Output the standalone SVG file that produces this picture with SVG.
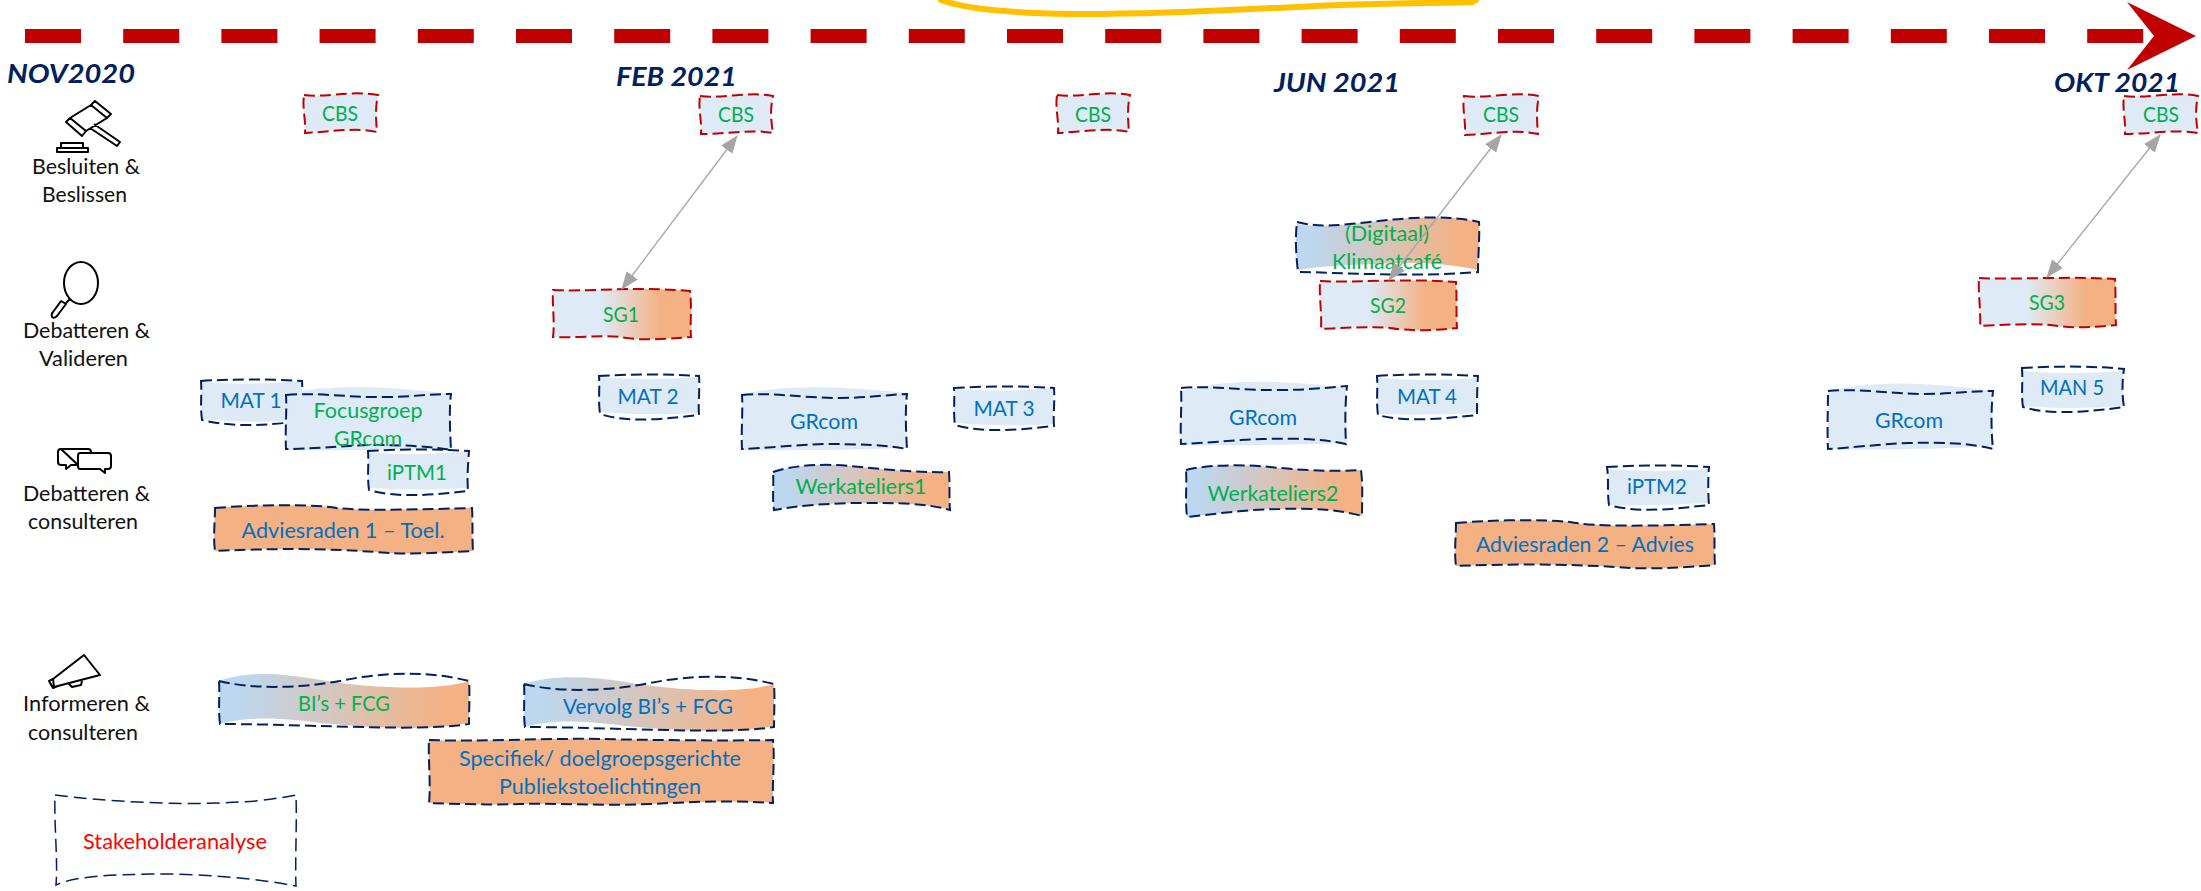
<svg xmlns="http://www.w3.org/2000/svg" width="2201" height="891" viewBox="0 0 2201 891">
<style>
text{font-family:Lato,"Liberation Sans",sans-serif}
.g,.b,.r{font-size:22px;text-anchor:middle}
.g{fill:#00B050}.b{fill:#0070C0}.r{fill:#FF0000}
.l{font-size:20.5px;fill:#111}
.d{font-size:27px;font-weight:700;font-style:italic;fill:#002060}
.sr{fill:none;stroke:#C00000;stroke-width:2;stroke-dasharray:11 5}
.sn{fill:none;stroke:#002060;stroke-width:2;stroke-dasharray:11 5}
.sw{fill:none;stroke:#002060;stroke-width:1.5;stroke-dasharray:13 6}
.lt{fill:#DEEAF6}.or{fill:#F4B183}.gb{fill:url(#gb)}.sg{fill:url(#sg)}
.ic{fill:none;stroke:#000;stroke-width:2;stroke-linejoin:round}
.cn{fill:none;stroke:#A5A5A5;stroke-width:1.3;marker-start:url(#ah);marker-end:url(#ah)}
</style>
<defs>
<linearGradient id="gb"><stop offset="0.08" stop-color="#BDD7EE"/><stop offset="0.9" stop-color="#F4B183"/></linearGradient>
<linearGradient id="sg"><stop offset="0.35" stop-color="#DEEAF6"/><stop offset="0.78" stop-color="#F4B183"/></linearGradient>
<marker id="ah" markerUnits="userSpaceOnUse" markerWidth="18" markerHeight="14" refX="17" refY="7" orient="auto-start-reverse"><path d="M0,0L18,7L0,14Z" fill="#A5A5A5"/></marker>
</defs>

<g id="timeline">
<path d="M25,36H2150" fill="none" stroke="#C00000" stroke-width="14" stroke-dasharray="56 42.2"/>
<path d="M2127,2L2196,36L2127,70L2154,36Z" fill="#C00000"/>
<path d="M941,0C965,9 1010,13 1070,14C1170,15 1260,8 1340,5C1390,3 1440,3 1472,2L1476,0" fill="none" stroke="#FFC000" stroke-width="6" stroke-linecap="round"/>
</g>

<g id="dates">
<text class="d" x="7" y="83" textLength="128" lengthAdjust="spacingAndGlyphs">NOV2020</text>
<text class="d" x="616" y="86" textLength="121" lengthAdjust="spacingAndGlyphs">FEB 2021</text>
<text class="d" x="1274" y="92" textLength="126" lengthAdjust="spacingAndGlyphs">JUN 2021</text>
<text class="d" x="2054" y="92" textLength="126" lengthAdjust="spacingAndGlyphs">OKT 2021</text>
</g>

<g id="cat-besluiten">
<path class="ic" d="M95,101L111,114L107,118L91,105ZM66,122L82,136L86,131L70,118ZM91,105L107,118L86,131L70,118ZM94,124L120,142L117,146L90,128"/>
<path class="ic" d="M61,143H83V148H61ZM57,148H88V152H57Z"/>
<text class="l" x="32" y="174" textLength="108" lengthAdjust="spacingAndGlyphs">Besluiten &amp;</text>
<text class="l" x="42" y="202" textLength="85" lengthAdjust="spacingAndGlyphs">Beslissen</text>
</g>
<g id="cat-valideren">
<ellipse class="ic" cx="81" cy="283" rx="17" ry="21"/>
<path class="ic" d="M61,301L66,304L57,316Q54,319 52,317Q51,314 53,312ZM66,303L70,299"/>
<text class="l" x="23" y="338" textLength="127" lengthAdjust="spacingAndGlyphs">Debatteren &amp;</text>
<text class="l" x="39" y="366" textLength="89" lengthAdjust="spacingAndGlyphs">Valideren</text>
</g>
<g id="cat-consulteren">
<path class="ic" d="M61,449H88Q91,449 91,452V453M78,465H71L66,469V465H61Q58,465 58,462V452Q58,449 61,449Z"/>
<path class="ic" d="M80,453H108Q111,453 111,456V466Q111,469 108,469H105V473L100,469H80Q78,469 78,466V456Q78,453 80,453Z"/>
<text class="l" x="23" y="501" textLength="127" lengthAdjust="spacingAndGlyphs">Debatteren &amp;</text>
<text class="l" x="28" y="529" textLength="110" lengthAdjust="spacingAndGlyphs">consulteren</text>
</g>
<g id="cat-informeren">
<path class="ic" d="M84,655L100,675L54,687L53,679ZM53,679L49,681L53,688L58,686M69,684L72,687L81,685L82,681"/>
<text class="l" x="23" y="711" textLength="127" lengthAdjust="spacingAndGlyphs">Informeren &amp;</text>
<text class="l" x="28" y="740" textLength="110" lengthAdjust="spacingAndGlyphs">consulteren</text>
</g>

<g id="cbs1"><path class="lt" d="M304,95C325,98 350,90 378,95C375,108 376,120 377,132C355,127 330,132 305,133C306,120 302,108 304,95Z"/><path class="sr" d="M304,95C325,98 350,90 378,95C375,108 376,120 377,132C355,127 330,132 305,133C306,120 302,108 304,95Z"/><text class="g" x="340" y="121" textLength="36" lengthAdjust="spacingAndGlyphs">CBS</text></g>
<g id="cbs2"><path class="lt" d="M700,96C722,99 750,91 773,96C770,109 771,121 773,133C752,129 725,134 701,134C702,121 698,109 700,96Z"/><path class="sr" d="M700,96C722,99 750,91 773,96C770,109 771,121 773,133C752,129 725,134 701,134C702,121 698,109 700,96Z"/><text class="g" x="736" y="122" textLength="36" lengthAdjust="spacingAndGlyphs">CBS</text></g>
<g id="cbs3"><path class="lt" d="M1057,95C1078,98 1105,90 1130,95C1127,108 1128,120 1129,132C1108,127 1082,132 1058,133C1059,120 1055,108 1057,95Z"/><path class="sr" d="M1057,95C1078,98 1105,90 1130,95C1127,108 1128,120 1129,132C1108,127 1082,132 1058,133C1059,120 1055,108 1057,95Z"/><text class="g" x="1093" y="122" textLength="36" lengthAdjust="spacingAndGlyphs">CBS</text></g>
<g id="cbs4"><path class="lt" d="M1464,96C1486,99 1514,91 1539,96C1536,109 1537,121 1538,134C1517,129 1490,134 1465,135C1466,122 1462,109 1464,96Z"/><path class="sr" d="M1464,96C1486,99 1514,91 1539,96C1536,109 1537,121 1538,134C1517,129 1490,134 1465,135C1466,122 1462,109 1464,96Z"/><text class="g" x="1501" y="122" textLength="36" lengthAdjust="spacingAndGlyphs">CBS</text></g>
<g id="cbs5"><path class="lt" d="M2124,96C2146,99 2174,91 2198,96C2195,109 2196,121 2198,133C2177,129 2150,134 2125,134C2126,121 2122,109 2124,96Z"/><path class="sr" d="M2124,96C2146,99 2174,91 2198,96C2195,109 2196,121 2198,133C2177,129 2150,134 2125,134C2126,121 2122,109 2124,96Z"/><text class="g" x="2161" y="122" textLength="36" lengthAdjust="spacingAndGlyphs">CBS</text></g>

<g id="sg1"><path class="sg" d="M553,290C590,292 630,286 690,291C692,305 690,322 691,337C665,339 640,341 620,337C600,335 575,338 553,337C555,322 552,305 553,290Z"/><path class="sr" d="M553,290C590,292 630,286 690,291C692,305 690,322 691,337C665,339 640,341 620,337C600,335 575,338 553,337C555,322 552,305 553,290Z"/><text class="g" x="621" y="322" textLength="36" lengthAdjust="spacingAndGlyphs">SG1</text></g>
<g id="klimaatcafe"><path class="gb" d="M1297,224C1320,228 1340,225 1370,222C1410,217 1450,215 1479,222C1480,235 1478,255 1478,270C1445,262 1405,262 1375,264C1345,265 1320,266 1298,270C1296,255 1295,238 1297,224Z"/><path class="sn" d="M1297,222C1320,228 1340,225 1370,222C1410,217 1450,215 1479,222C1480,235 1478,255 1478,272C1445,275 1410,275 1375,274C1345,274 1320,272 1298,272C1296,255 1295,238 1297,222Z"/><text class="g" x="1387" y="241" textLength="84" lengthAdjust="spacingAndGlyphs">(Digitaal)</text><text class="g" x="1387" y="269" textLength="110" lengthAdjust="spacingAndGlyphs">Klimaatcafé</text></g>
<g id="sg2"><path class="sg" d="M1320,281C1360,283 1400,278 1456,282C1457,296 1456,314 1457,328C1432,331 1410,331 1390,328C1370,326 1345,328 1321,329C1322,314 1319,296 1320,281Z"/><path class="sr" d="M1320,281C1360,283 1400,278 1456,282C1457,296 1456,314 1457,328C1432,331 1410,331 1390,328C1370,326 1345,328 1321,329C1322,314 1319,296 1320,281Z"/><text class="g" x="1388" y="313" textLength="36" lengthAdjust="spacingAndGlyphs">SG2</text></g>
<g id="sg3"><path class="sg" d="M1979,278C2015,280 2060,276 2115,279C2116,292 2115,312 2116,325C2090,328 2070,328 2050,325C2030,323 2005,325 1980,326C1981,312 1978,292 1979,278Z"/><path class="sr" d="M1979,278C2015,280 2060,276 2115,279C2116,292 2115,312 2116,325C2090,328 2070,328 2050,325C2030,323 2005,325 1980,326C1981,312 1978,292 1979,278Z"/><text class="g" x="2047" y="310" textLength="36" lengthAdjust="spacingAndGlyphs">SG3</text></g>

<g id="mat1"><path class="lt" d="M201,382Q250,386 302,381V420Q250,424 202,419C200,405 202,395 201,382Z"/><path class="sn" d="M201,381C230,379 270,379 302,381C303,395 302,408 302,421C270,425 235,428 202,420C200,405 202,395 201,381Z"/><text class="b" x="251" y="408" textLength="61" lengthAdjust="spacingAndGlyphs">MAT 1</text></g>
<g id="focusgroep"><path class="lt" d="M286,394Q345,380 450,394L451,448Q370,451 286,450Z"/><path class="sn" d="M286,395C320,392 350,398 385,397C410,397 430,394 451,394C449,410 450,430 451,450C430,446 400,445 370,445C340,446 310,449 286,449C285,430 287,410 286,395Z"/><text class="g" x="368" y="418" textLength="109" lengthAdjust="spacingAndGlyphs">Focusgroep</text><text class="g" x="368" y="446" textLength="68" lengthAdjust="spacingAndGlyphs">GRcom</text></g>
<g id="iptm1"><path class="lt" d="M368,452Q418,457 468,451V488Q418,491 369,488C367,475 369,465 368,452Z"/><path class="sn" d="M368,451C400,449 440,449 469,451C468,465 467,478 468,491C440,494 400,499 369,490C367,475 369,465 368,451Z"/><text class="g" x="417" y="480" textLength="60" lengthAdjust="spacingAndGlyphs">iPTM1</text></g>
<g id="adviesraden1"><path class="or" d="M215,508C250,505 300,504 330,507C350,511 400,510 472,508C473,522 472,538 473,551C440,553 410,554 390,553C350,550 300,547 215,551C213,538 215,522 215,508Z"/><path class="sn" d="M215,508C250,505 300,504 330,507C350,511 400,510 472,508C473,522 472,538 473,551C440,553 410,554 390,553C350,550 300,547 215,551C213,538 215,522 215,508Z"/><text class="b" x="343" y="538" textLength="203" lengthAdjust="spacingAndGlyphs">Adviesraden 1 – Toel.</text></g>

<g id="mat2"><path class="lt" d="M599,377Q650,381 698,377V413Q650,416 600,412C598,400 600,390 599,377Z"/><path class="sn" d="M599,376C630,374 670,374 699,376C700,390 698,403 699,415C670,418 630,424 600,414C598,400 600,390 599,376Z"/><text class="b" x="648" y="404" textLength="61" lengthAdjust="spacingAndGlyphs">MAT 2</text></g>
<g id="grcom1"><path class="lt" d="M742,394Q800,381 906,393L907,448Q825,451 742,450Z"/><path class="sn" d="M742,395C775,392 800,398 840,398C865,398 885,395 907,394C905,412 906,432 907,449C885,445 860,444 825,444C795,445 765,448 742,449C741,432 743,412 742,395Z"/><text class="b" x="824" y="429" textLength="68" lengthAdjust="spacingAndGlyphs">GRcom</text></g>
<g id="mat3"><path class="lt" d="M954,389Q1004,393 1053,388V424Q1004,427 955,423C953,411 955,401 954,389Z"/><path class="sn" d="M954,388C985,386 1025,386 1054,388C1055,402 1053,414 1054,426C1025,429 985,434 955,425C953,411 955,401 954,388Z"/><text class="b" x="1004" y="416" textLength="61" lengthAdjust="spacingAndGlyphs">MAT 3</text></g>
<g id="werkateliers1"><path class="gb" d="M773,472C790,466 820,463 850,466C880,469 920,473 949,472C950,485 949,498 950,510C925,503 900,503 860,503C830,503 795,506 774,510C772,497 774,485 773,472Z"/><path class="sn" d="M773,472C790,466 820,463 850,466C880,469 920,473 949,472C950,485 949,498 950,510C925,503 900,503 860,503C830,503 795,506 774,510C772,497 774,485 773,472Z"/><text class="g" x="861" y="494" textLength="131" lengthAdjust="spacingAndGlyphs">Werkateliers1</text></g>
<g id="grcom2"><path class="lt" d="M1181,391Q1240,374 1346,388L1347,443Q1265,446 1181,445Z"/><path class="sn" d="M1181,388C1215,385 1240,391 1280,390C1305,390 1325,388 1347,386C1345,405 1345,425 1346,444C1325,439 1295,438 1263,439C1235,440 1205,443 1181,444C1180,425 1182,405 1181,388Z"/><text class="b" x="1263" y="425" textLength="68" lengthAdjust="spacingAndGlyphs">GRcom</text></g>
<g id="mat4"><path class="lt" d="M1377,378Q1427,382 1477,378V413Q1427,416 1378,414C1376,401 1378,391 1377,378Z"/><path class="sn" d="M1377,376C1405,374 1450,374 1478,376C1477,390 1477,403 1477,415C1450,418 1405,423 1378,415C1376,401 1378,391 1377,376Z"/><text class="b" x="1427" y="404" textLength="60" lengthAdjust="spacingAndGlyphs">MAT 4</text></g>
<g id="werkateliers2"><path class="gb" d="M1186,470C1205,465 1240,464 1270,467C1300,470 1330,472 1361,470C1363,485 1362,500 1362,516C1340,510 1315,508 1280,509C1250,509 1215,514 1187,517C1185,500 1187,485 1186,470Z"/><path class="sn" d="M1186,470C1205,465 1240,464 1270,467C1300,470 1330,472 1361,470C1363,485 1362,500 1362,516C1340,510 1315,508 1280,509C1250,509 1215,514 1187,517C1185,500 1187,485 1186,470Z"/><text class="g" x="1273" y="501" textLength="131" lengthAdjust="spacingAndGlyphs">Werkateliers2</text></g>
<g id="iptm2"><path class="lt" d="M1608,469Q1657,473 1708,469V503Q1657,506 1609,505C1607,492 1609,482 1608,469Z"/><path class="sn" d="M1607,467C1640,465 1680,465 1709,467C1708,480 1708,493 1709,505C1680,508 1640,514 1609,505C1607,492 1609,482 1607,467Z"/><text class="b" x="1657" y="494" textLength="60" lengthAdjust="spacingAndGlyphs">iPTM2</text></g>
<g id="adviesraden2"><path class="or" d="M1456,523C1490,520 1540,519 1570,522C1595,527 1650,526 1714,524C1715,537 1714,552 1715,565C1680,568 1650,569 1630,568C1590,565 1530,563 1456,566C1454,552 1456,537 1456,523Z"/><path class="sn" d="M1456,523C1490,520 1540,519 1570,522C1595,527 1650,526 1714,524C1715,537 1714,552 1715,565C1680,568 1650,569 1630,568C1590,565 1530,563 1456,566C1454,552 1456,537 1456,523Z"/><text class="b" x="1585" y="552" textLength="218" lengthAdjust="spacingAndGlyphs">Adviesraden 2 – Advies</text></g>
<g id="grcom3"><path class="lt" d="M1828,391Q1890,376 1992,391L1993,446Q1910,451 1828,449Z"/><path class="sn" d="M1828,391C1860,388 1890,394 1925,394C1950,394 1970,391 1993,391C1991,410 1991,430 1993,449C1970,443 1940,442 1910,443C1880,444 1850,448 1828,449C1827,430 1828,410 1828,391Z"/><text class="b" x="1909" y="428" textLength="68" lengthAdjust="spacingAndGlyphs">GRcom</text></g>
<g id="man5"><path class="lt" d="M2022,371Q2072,375 2123,371V406Q2072,410 2023,406C2021,394 2023,384 2022,371Z"/><path class="sn" d="M2022,368C2055,366 2095,366 2124,369C2122,382 2122,395 2124,407C2095,411 2050,416 2023,407C2021,394 2023,384 2022,368Z"/><text class="b" x="2072" y="395" textLength="64" lengthAdjust="spacingAndGlyphs">MAN 5</text></g>

<g id="bis"><path class="gb" d="M219,681C245,671 280,673 315,679C350,686 430,693 469,681V723C420,732 370,727 320,723C290,719 250,715 220,724C218,710 220,695 219,681Z"/><path class="sn" d="M219,681C250,689 300,689 345,680C385,672 430,671 469,681C470,695 469,710 469,724C430,730 370,727 320,726C285,725 250,724 220,724C218,710 220,695 219,681Z"/><text class="g" x="344" y="711" textLength="92" lengthAdjust="spacingAndGlyphs">BI’s + FCG</text></g>
<g id="vervolg"><path class="gb" d="M524,684C550,675 585,676 620,681C655,688 735,696 774,684V726C725,735 675,730 625,726C595,722 555,718 525,727C523,713 525,698 524,684Z"/><path class="sn" d="M524,684C555,692 605,692 650,683C690,675 735,674 774,684C775,698 774,713 774,727C735,733 675,730 625,729C590,728 555,727 525,727C523,713 525,698 524,684Z"/><text class="b" x="648" y="714" textLength="170" lengthAdjust="spacingAndGlyphs">Vervolg BI’s + FCG</text></g>
<g id="specifiek"><path class="or" d="M429,740C480,742 540,738 600,739C650,740 720,741 773,740C775,760 772,785 773,803C730,800 690,802 650,804C600,806 560,803 520,804C490,805 455,804 429,803C431,785 428,760 429,740Z"/><path class="sn" d="M429,740C480,742 540,738 600,739C650,740 720,741 773,740C775,760 772,785 773,803C730,800 690,802 650,804C600,806 560,803 520,804C490,805 455,804 429,803C431,785 428,760 429,740Z"/><text class="b" x="600" y="766" textLength="282" lengthAdjust="spacingAndGlyphs">Specifiek/ doelgroepsgerichte</text><text class="b" x="600" y="794" textLength="202" lengthAdjust="spacingAndGlyphs">Publiekstoelichtingen</text></g>
<g id="stakeholderanalyse"><path class="sw" d="M55,795C100,801 180,806 240,802C262,801 280,798 296,795C297,825 295,860 296,886C260,879 200,873 150,874C110,875 75,876 56,885C58,860 54,825 55,795Z"/><text class="r" x="175" y="849" textLength="184" lengthAdjust="spacingAndGlyphs">Stakeholderanalyse</text></g>

<g id="connectors">
<path class="cn" d="M622,289L737,136"/>
<path class="cn" d="M1389,280L1501,135"/>
<path class="cn" d="M2047,277L2160,135"/>
</g>
</svg>
